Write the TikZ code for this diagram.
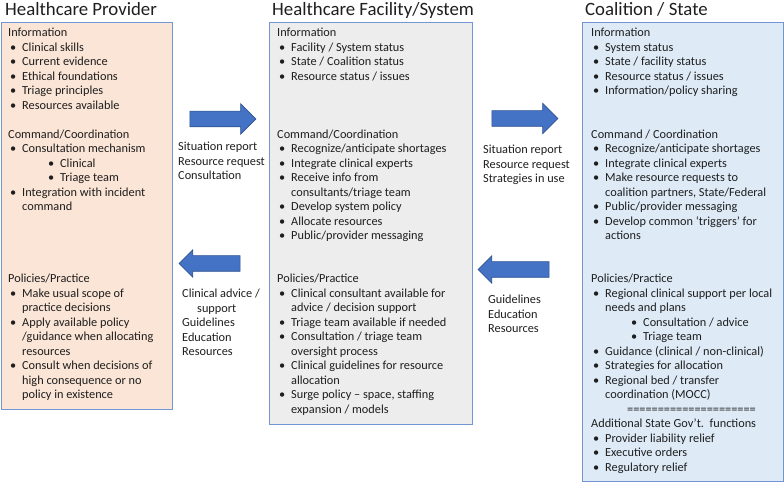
\documentclass[tikz,border=0pt]{standalone}
\usepackage{fontspec}
\setmainfont{Carlito}
\usetikzlibrary{shapes.arrows}
\definecolor{provfill}{RGB}{251,229,214}
\definecolor{facfill}{RGB}{237,237,237}
\definecolor{coalfill}{RGB}{222,235,247}
\definecolor{edgeblue}{RGB}{114,149,212}
\definecolor{arrowblue}{RGB}{68,114,196}
\definecolor{arrowedge}{RGB}{47,82,143}
\definecolor{ink}{RGB}{30,30,30}
\newcommand{\hd}[1]{\hbox{#1}}
\newcommand{\bl}[1]{\hbox{\hspace{2bp}\makebox[12bp][l]{\textbullet}#1}}
\newcommand{\cn}[1]{\hbox{\hspace{14bp}#1}}
\newcommand{\sbl}[1]{\hbox{\hspace{40bp}\makebox[12bp][l]{\textbullet}#1}}
\newcommand{\lines}[1]{\vtop{\baselineskip=14.47bp\lineskiplimit=-20bp #1}}

\begin{document}
\begin{tikzpicture}[x=1bp, y=-1bp, text=ink,
    font=\fontsize{12.3bp}{14.47bp}\selectfont,
    panel/.style={draw=edgeblue, line width=1bp, anchor=north west, inner sep=0pt},
    txt/.style={anchor=base west, inner sep=0pt},
    title/.style={anchor=base west, inner sep=0pt, font=\fontsize{18.8bp}{20bp}\selectfont},
    flow/.style={single arrow, draw=arrowedge, fill=arrowblue, line width=0.6bp,
      inner sep=0pt, text height=15bp, text depth=0pt, single arrow head extend=7.5bp}]

  \newcommand\Y{14.47};

  \useasboundingbox (0,0) rectangle (784,483);

  %% panels
  \node[panel, fill=provfill, minimum width=171bp, minimum height=387bp] (prov) at (1,22) {};
  \node[panel, fill=facfill, minimum width=203bp, minimum height=402bp] (fac) at (269,22) {};
  \node[panel, fill=coalfill, minimum width=201bp, minimum height=459bp] (coal) at (582,22) {};

  \node[title] (provtitle) at (5,16) {Healthcare Provider};
  \node[title] (factitle) at (272,16) {Healthcare Facility/System};
  \node[title] (coaltitle) at (585,16) {Coalition / State};

  %% Healthcare Provider
  \node[txt] (provinfo) at (8,37) {\lines{\hd{Information}
      \bl{Clinical skills}\bl{Current evidence}\bl{Ethical foundations}
      \bl{Triage principles}\bl{Resources available}}};
  \node[txt] (provcmd) at (8,{37+7*\Y}) {\lines{\hd{Command/Coordination}
      \bl{Consultation mechanism}\sbl{Clinical}\sbl{Triage team}
      \bl{Integration with incident}\cn{command}}};
  \node[txt] (provpol) at (8,{37+17*\Y}) {\lines{\hd{Policies/Practice}
      \bl{Make usual scope of}\cn{practice decisions}
      \bl{Apply available policy}\cn{/guidance when allocating}\cn{resources}
      \bl{Consult when decisions of}\cn{high consequence or no}\cn{policy in existence}}};

  %% Healthcare Facility/System
  \node[txt] (facinfo) at (277,37) {\lines{\hd{Information}
      \bl{Facility / System status}\bl{State / Coalition status}
      \bl{Resource status / issues}}};
  \node[txt] (faccmd) at (277,{37+7*\Y}) {\lines{\hd{Command/Coordination}
      \bl{Recognize/anticipate shortages}\bl{Integrate clinical experts}
      \bl{Receive info from}\cn{consultants/triage team}
      \bl{Develop system policy}\bl{Allocate resources}
      \bl{Public/provider messaging}}};
  \node[txt] (facpol) at (277,{37+17*\Y}) {\lines{\hd{Policies/Practice}
      \bl{Clinical consultant available for}\cn{advice / decision support}
      \bl{Triage team available if needed}
      \bl{Consultation / triage team}\cn{oversight process}
      \bl{Clinical guidelines for resource}\cn{allocation}
      \bl{Surge policy -- space, staffing}\cn{expansion / models}}};

  %% Coalition / State
  \node[txt] (coalinfo) at (591,37) {\lines{\hd{Information}
      \bl{System status}\bl{State / facility status}
      \bl{Resource status / issues}\bl{Information/policy sharing}}};
  \node[txt] (coalcmd) at (591,{37+7*\Y}) {\lines{\hd{Command / Coordination}
      \bl{Recognize/anticipate shortages}\bl{Integrate clinical experts}
      \bl{Make resource requests to}\cn{coalition partners, State/Federal}
      \bl{Public/provider messaging}
      \bl{Develop common `triggers' for}\cn{actions}}};
  \node[txt] (coalpol) at (591,{37+17*\Y}) {\lines{\hd{Policies/Practice}
      \bl{Regional clinical support per local}\cn{needs and plans}
      \sbl{Consultation / advice}\sbl{Triage team}
      \bl{Guidance (clinical / non-clinical)}
      \bl{Strategies for allocation}
      \bl{Regional bed / transfer}\cn{coordination (MOCC)}
      \hbox{\hspace{36bp}=====================}
      \hd{Additional State Gov't.\ \ functions}
      \bl{Provider liability relief}\bl{Executive orders}\bl{Regulatory relief}}};

  %% flows between panels
  \node[flow, minimum height=66bp] (up1) at (219,119) {};
  \node[flow, minimum height=61bp, single arrow head extend=6bp, shape border rotate=180] (down1) at (213.5,263.5) {};
  \node[flow, minimum height=66bp] (up2) at (521,118.5) {};
  \node[flow, minimum height=71bp, single arrow head extend=6bp, shape border rotate=180] (down2) at (517.5,269.5) {};

  \node[txt] (up1lbl) at (178,151) {\lines{\hd{Situation report}\hd{Resource request}\hd{Consultation}}};
  \node[txt] (down1lbl) at (182,298) {\lines{\hd{Clinical advice /}\hd{\hspace{15bp}support}
      \hd{Guidelines}\hd{Education}\hd{Resources}}};
  \node[txt] (up2lbl) at (483,154) {\lines{\hd{Situation report}\hd{Resource request}\hd{Strategies in use}}};
  \node[txt] (down2lbl) at (488,304) {\lines{\hd{Guidelines}\hd{Education}\hd{Resources}}};
\end{tikzpicture}
\end{document}
